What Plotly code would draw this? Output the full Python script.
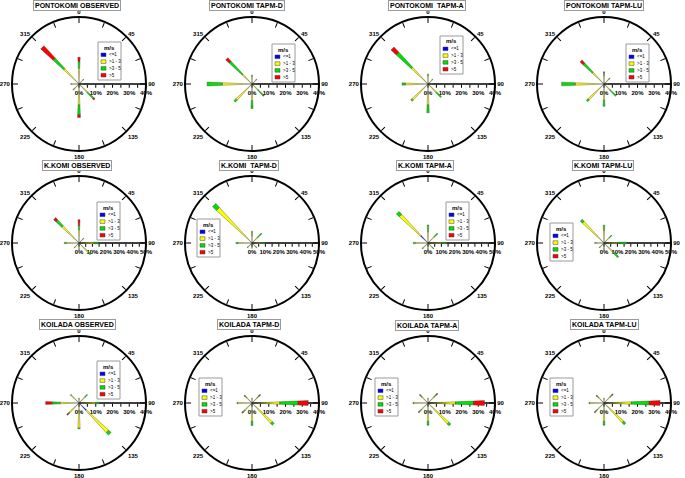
import plotly.graph_objects as go

# ---------------- data ----------------
directions = [0, 45, 90, 135, 180, 225, 270, 315]
speed_bins = ["<=1", ">1 - 3", ">3 - 5", ">5"]
bin_colors = ["#0000ff", "#ffff00", "#00e000", "#ff0000"]

# frequency (%) per speed bin (rows: <=1, >1-3, >3-5, >5) and direction
pontokomi_observed = [
    [0.5, 0.5, 0.5, 0.5, 0.5, 0.5, 0.5, 0.5],
    [9.0, 3.0, 2.0, 6.5, 12.0, 3.5, 4.0, 12.0],
    [4.0, 0.5, 0.5, 5.0, 6.0, 1.0, 0.5, 8.5],
    [2.5, 0.0, 0.0, 1.0, 1.5, 0.0, 0.0, 10.0],
]
pontokomi_tapm_d = [
    [0.5, 0.5, 0.5, 0.5, 0.5, 0.5, 0.5, 0.5],
    [4.0, 3.0, 2.0, 4.5, 9.5, 12.5, 17.2, 7.5],
    [0.9, 0.5, 0.5, 4.3, 4.7, 1.7, 9.1, 10.5],
    [0.0, 0.0, 0.0, 0.7, 0.0, 0.0, 0.0, 2.8],
]
pontokomi_tapm_a = [
    [0.5, 0.5, 0.5, 0.5, 0.5, 0.5, 0.5, 0.5],
    [4.5, 3.0, 2.0, 6.5, 12.0, 12.5, 13.0, 13.0],
    [1.0, 0.5, 0.5, 4.0, 4.7, 1.0, 2.0, 12.2],
    [0.0, 0.0, 0.0, 0.0, 0.0, 0.0, 0.0, 4.3],
]
pontokomi_tapm_lu = [
    [0.5, 0.5, 0.5, 0.5, 0.5, 0.5, 0.5, 0.5],
    [4.5, 3.5, 2.0, 4.5, 9.2, 12.5, 16.7, 9.0],
    [1.5, 1.0, 0.5, 5.0, 3.6, 1.3, 8.1, 7.5],
    [0.8, 0.0, 0.0, 0.0, 0.0, 0.0, 0.0, 2.4],
]
kkomi_observed = [
    [0.5, 0.5, 0.5, 0.5, 0.5, 0.5, 0.5, 0.5],
    [9.5, 3.5, 10.5, 9.5, 4.0, 4.0, 9.0, 17.0],
    [3.0, 1.0, 3.8, 2.0, 0.5, 0.5, 1.5, 5.9],
    [4.4, 0.0, 0.0, 0.0, 0.0, 0.0, 0.0, 2.3],
]
kkomi_tapm_d = [
    [0.5, 0.5, 0.5, 0.5, 0.5, 0.5, 0.5, 0.5],
    [5.0, 5.0, 6.0, 3.5, 3.0, 3.5, 10.0, 35.5],
    [3.3, 4.5, 3.5, 1.0, 0.5, 1.0, 1.5, 4.0],
    [0.0, 0.0, 0.0, 0.0, 0.0, 0.0, 0.0, 0.0],
]
kkomi_tapm_a = [
    [0.5, 0.5, 0.5, 0.5, 0.5, 0.5, 0.5, 7.5],
    [8.0, 6.0, 9.5, 4.0, 4.0, 4.5, 9.0, 21.5],
    [5.0, 3.5, 3.8, 1.5, 1.5, 1.0, 1.5, 3.0],
    [0.0, 0.0, 0.0, 0.0, 0.0, 0.0, 0.0, 0.0],
]
kkomi_tapm_lu = [
    [0.5, 0.5, 0.5, 0.5, 0.5, 0.5, 0.5, 0.5],
    [9.0, 5.0, 9.5, 8.5, 3.5, 3.5, 5.5, 21.5],
    [3.8, 2.5, 6.8, 6.0, 1.0, 1.0, 1.0, 2.0],
    [0.0, 0.0, 0.0, 0.0, 0.0, 0.0, 0.0, 0.0],
]
koilada_observed = [
    [0.5, 0.5, 0.5, 6.0, 0.5, 0.5, 0.5, 0.5],
    [2.0, 4.5, 9.5, 18.0, 14.5, 7.5, 10.7, 6.0],
    [0.5, 2.0, 2.0, 2.0, 0.4, 1.0, 5.0, 0.5],
    [0.0, 0.0, 0.0, 0.0, 0.0, 1.0, 3.7, 0.0],
]
koilada_tapm_d = [
    [0.5, 0.5, 0.5, 0.5, 0.5, 0.5, 0.5, 0.5],
    [2.0, 4.0, 16.1, 16.0, 10.5, 5.5, 8.0, 4.0],
    [0.5, 1.5, 10.9, 1.5, 2.4, 1.5, 0.5, 1.2],
    [0.0, 1.0, 6.1, 0.0, 0.0, 0.9, 0.0, 0.8],
]
koilada_tapm_a = [
    [0.5, 0.5, 0.5, 0.5, 0.5, 0.5, 0.5, 0.5],
    [2.0, 4.5, 15.9, 16.5, 10.5, 5.0, 8.0, 4.5],
    [0.5, 2.0, 10.8, 1.5, 2.3, 2.0, 0.5, 1.2],
    [0.0, 1.0, 6.5, 0.0, 0.0, 0.5, 0.0, 0.8],
]
koilada_tapm_lu = [
    [0.5, 0.5, 0.5, 0.5, 0.5, 0.5, 0.5, 0.5],
    [2.0, 4.5, 15.8, 15.5, 10.5, 5.0, 8.0, 4.0],
    [0.5, 1.5, 10.7, 1.7, 2.3, 1.7, 0.5, 1.2],
    [0.0, 1.0, 6.5, 0.0, 0.0, 0.8, 0.0, 0.8],
]

panel_data = [
    pontokomi_observed, pontokomi_tapm_d, pontokomi_tapm_a, pontokomi_tapm_lu,
    kkomi_observed, kkomi_tapm_d, kkomi_tapm_a, kkomi_tapm_lu,
    koilada_observed, koilada_tapm_d, koilada_tapm_a, koilada_tapm_lu,
]
panel_titles = [
    "PONTOKOMI OBSERVED", "PONTOKOMI TAPM-D", "PONTOKOMI  TAPM-A", "PONTOKOMI TAPM-LU",
    "K.KOMI OBSERVED", "K.KOMI  TAPM-D", "K.KOMI TAPM-A", "K.KOMI TAPM-LU",
    "KOILADA OBSERVED", "KOILADA TAPM-D", "KOILADA TAPM-A", "KOILADA TAPM-LU",
]
radial_max = [40, 40, 40, 40, 50, 50, 50, 50, 40, 40, 40, 40]
angle_ticks = [i * 22.5 for i in range(16)]
angle_labels = [str(int(a)) if a % 45 == 0 else "" for a in angle_ticks]

# ---------------- layout geometry (pixels) ----------------
W, H = 685, 478
col_cx = [79, 252, 428, 604]
row_cy = [84, 243, 403]
RAD = 67
title_pos = [(77, 6), (247, 6), (427, 6), (604, 6),
             (77, 165), (249, 165), (425, 165), (603, 165),
             (77, 324), (249, 324), (427, 325), (604, 324)]
legend_pos = [(98, 42), (272, 44), (440, 36), (626, 44),
              (97, 202), (197, 219), (446, 202), (550, 223),
              (97, 361), (199, 378), (375, 378), (550, 378)]

FONT = "Liberation Sans, Arial, sans-serif"

fig = go.Figure()
layout = dict(width=W, height=H, margin=dict(l=0, r=0, t=0, b=0),
              paper_bgcolor="white", plot_bgcolor="white", showlegend=False,
              font=dict(family=FONT, color="black"))

annotations = []
shapes = []

def px2paper(x, y):
    return x / W, 1 - y / H

for p in range(12):
    r_i, c_i = divmod(p, 4)
    cx, cy = col_cx[c_i], row_cy[r_i]
    key = "polar" if p == 0 else f"polar{p+1}"
    sub = "polar" if p == 0 else f"polar{p+1}"
    data = panel_data[p]
    for b in range(4):
        fig.add_trace(go.Barpolar(
            r=data[b], theta=directions, width=[5] * len(directions),
            name=speed_bins[b], subplot=sub,
            marker=dict(color=bin_colors[b], line=dict(color="#404040", width=0.4)),
        ))
    rmax = radial_max[p]
    rt = list(range(0, rmax + 1, 5))
    rl = [f"{v}%" if v % 10 == 0 else "" for v in rt]
    layout[key] = dict(
        domain=dict(x=[(cx - RAD) / W, (cx + RAD) / W],
                    y=[1 - (cy + RAD) / H, 1 - (cy - RAD) / H]),
        bgcolor="white", barmode="stack",
        radialaxis=dict(range=[0, rmax], angle=0, side="clockwise",
                        tickvals=rt, ticktext=rl, tickangle=0, showline=True,
                        linecolor="black", linewidth=1.5, ticks="outside",
                        ticklen=3, tickcolor="black", showgrid=False,
                        tickfont=dict(size=6, family=FONT, weight="bold"),
                        layer="below traces"),
        angularaxis=dict(rotation=90, direction="clockwise",
                         tickvals=angle_ticks, ticktext=angle_labels,
                         ticks="inside", ticklen=5, tickcolor="black",
                         showline=True, linecolor="black", linewidth=2,
                         showgrid=False,
                         tickfont=dict(size=6, family=FONT, weight="bold",
                                       color="black")),
    )
    # title box
    tx, ty = px2paper(*title_pos[p])
    annotations.append(dict(
        x=tx, y=ty, xref="paper", yref="paper", text=panel_titles[p],
        showarrow=False, xanchor="center", yanchor="middle",
        font=dict(size=7, family=FONT, weight="bold"),
        bordercolor="#9a9a9a", borderwidth=1, borderpad=1, bgcolor="white"))
    # custom legend box
    lx, ly = legend_pos[p]
    bw, bh = 23, 38
    x0, y0 = px2paper(lx, ly)
    x1, y1 = px2paper(lx + bw, ly + bh)
    shapes.append(dict(type="rect", xref="paper", yref="paper",
                       x0=x0, y0=y1, x1=x1, y1=y0,
                       line=dict(color="#9a9a9a", width=1), fillcolor="white",
                       layer="above"))
    mx, my = px2paper(lx + bw / 2, ly + 5.5)
    annotations.append(dict(x=mx, y=my, xref="paper", yref="paper", text="m/s",
                            showarrow=False, xanchor="center", yanchor="middle",
                            font=dict(size=6, family=FONT, weight="bold")))
    for b in range(4):
        ey = ly + 12.8 + 6.8 * b
        sx0, sy0 = px2paper(lx + 3, ey - 1.8)
        sx1, sy1 = px2paper(lx + 8, ey + 1.8)
        shapes.append(dict(type="rect", xref="paper", yref="paper",
                           x0=sx0, y0=sy1, x1=sx1, y1=sy0,
                           line=dict(color="#404040", width=0.5),
                           fillcolor=bin_colors[b], layer="above"))
        tx2, ty2 = px2paper(lx + 9, ey)
        annotations.append(dict(x=tx2, y=ty2, xref="paper", yref="paper",
                                text=speed_bins[b].replace("<", "&lt;").replace(">", "&gt;"),
                                showarrow=False, xanchor="left", yanchor="middle",
                                font=dict(size=4.5, family=FONT)))

layout["annotations"] = annotations
layout["shapes"] = shapes
fig.update_layout(**layout)
fig.write_html("out.html", config={"displayModeBar": False},
               post_script="document.body.style.margin='0';document.body.style.padding='0';")
